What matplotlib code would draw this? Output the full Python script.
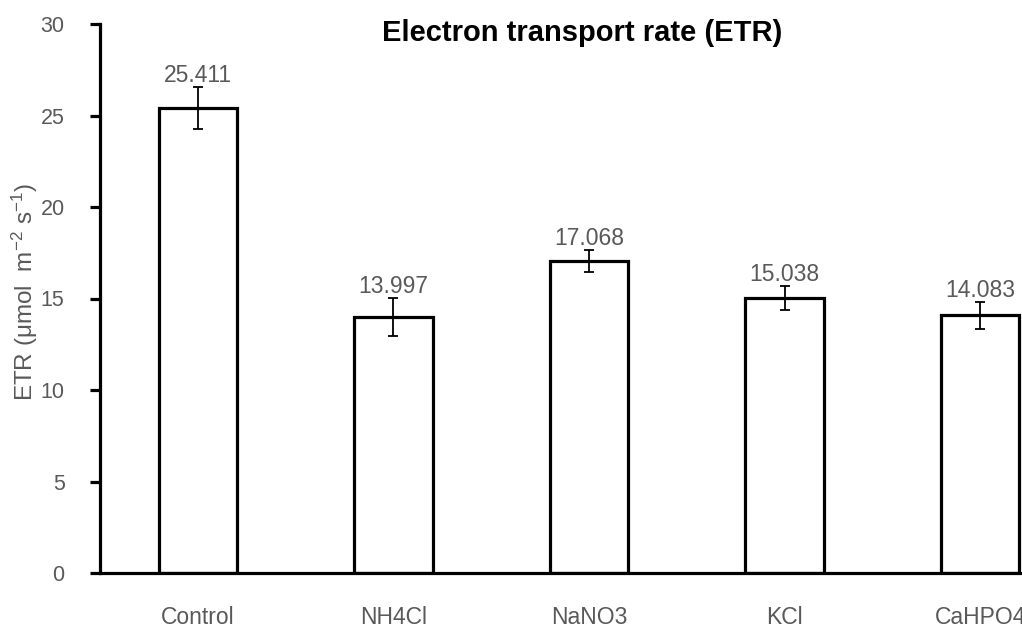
import matplotlib
matplotlib.use("Agg")
import matplotlib.pyplot as plt
import numpy as np

# ETR per treatment with standard errors
categories = ["Control", "NH4Cl", "NaNO3", "KCl", "CaHPO4"]
etr_values = [25.411, 13.997, 17.068, 15.038, 14.083]
etr_errors = [1.13, 1.02, 0.60, 0.65, 0.74]
y_ticks = [0, 5, 10, 15, 20, 25, 30]

plt.rcParams["font.family"] = ["Liberation Sans", "DejaVu Sans"]
plt.rcParams["mathtext.fontset"] = "custom"
plt.rcParams["mathtext.rm"] = "Liberation Sans"
plt.rcParams["mathtext.it"] = "Liberation Sans:italic"
plt.rcParams["mathtext.default"] = "regular"

gray = "#595959"
W, H = 1022, 630
fig = plt.figure(figsize=(W / 100, H / 100), dpi=100)
# axes run past the right edge of the canvas
ax = fig.add_axes([100 / W, (H - 573) / H, 978 / W, (573 - 24) / H])

x = np.arange(len(categories))
ax.bar(x, etr_values, width=0.4, facecolor="white", edgecolor="black",
       linewidth=2.3, zorder=2)
ax.errorbar(x, etr_values, yerr=etr_errors, fmt="none", ecolor="black",
            elinewidth=1.3, capsize=3.4, capthick=1.3, zorder=3)

for xi, v, e in zip(x, etr_values, etr_errors):
    ax.annotate(f"{v:.3f}", xy=(xi, v + e), xytext=(0, 3.5),
                textcoords="offset points", ha="center", va="baseline",
                fontsize=16.5, color=gray)

ax.set_xlim(-0.5, 4.5)
ax.set_ylim(0, 30)
ax.set_yticks(y_ticks)
ax.set_xticks(x)
ax.set_xticklabels(categories)

for side in ("top", "right"):
    ax.spines[side].set_visible(False)
for side in ("left", "bottom"):
    ax.spines[side].set_linewidth(2.3)
    ax.spines[side].set_color("black")

ax.tick_params(axis="y", direction="out", length=7.5, width=2.3,
               color="black", pad=18, labelsize=15.5, labelcolor=gray)
ax.tick_params(axis="x", length=0, pad=24, labelsize=16.5, labelcolor=gray)

fig.text(25 / W, 1 - 292 / H, r"ETR (μmol  m$^{-2}$ s$^{-1}$)",
         rotation=90, ha="center", va="center", fontsize=17.5, color=gray)
fig.text(582 / W, 1 - 41 / H, "Electron transport rate (ETR)",
         ha="center", va="baseline", fontsize=21, fontweight="bold",
         color="black")

fig.savefig("out.png", dpi=100)
